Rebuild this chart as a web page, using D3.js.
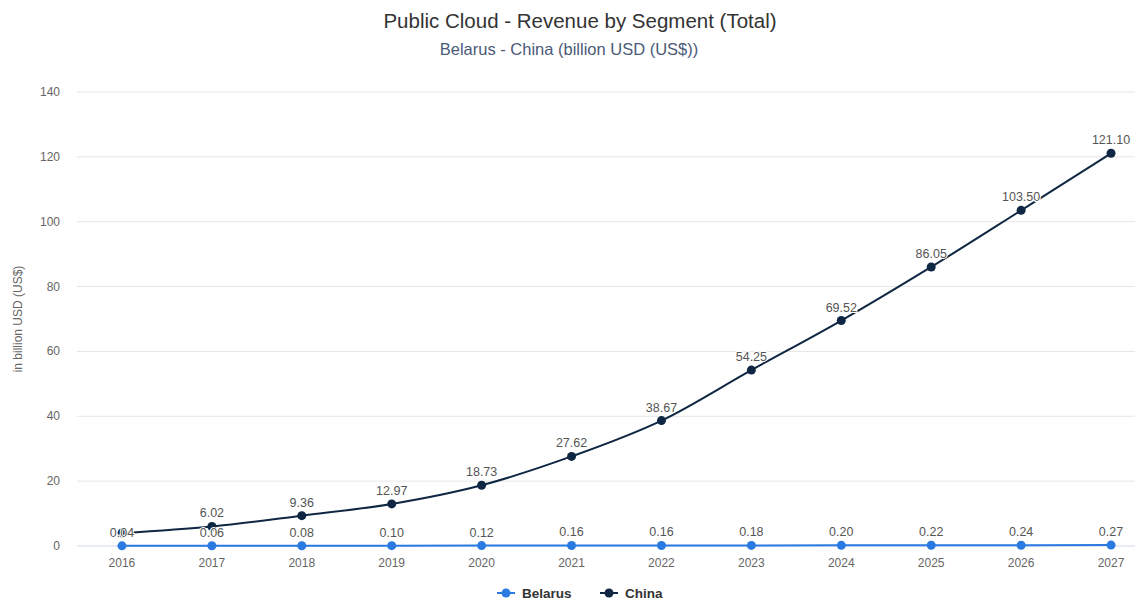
<!DOCTYPE html>
<html>
<head>
<meta charset="utf-8">
<script src="https://cdn.jsdelivr.net/npm/d3@7"></script>
<style>
	body { margin: 0; background: #fff; font-family: "Liberation Sans", Arial, sans-serif; }
	svg { display: block; }
</style>
</head>
<body>
<div id="chart"></div>
<script>
(function() {

const years = ["2016", "2017", "2018", "2019", "2020", "2021", "2022", "2023", "2024", "2025", "2026", "2027"];
const belarus = [0.04, 0.06, 0.08, 0.10, 0.12, 0.16, 0.16, 0.18, 0.20, 0.22, 0.24, 0.27];
const china = [4.0, 6.02, 9.36, 12.97, 18.73, 27.62, 38.67, 54.25, 69.52, 86.05, 103.50, 121.10];
const yTicks = [0, 20, 40, 60, 80, 100, 120, 140];
// china 2016 label is hidden in the original (overlaps)
const chinaHideLabel = [true, false, false, false, false, false, false, false, false, false, false, false];

const width = 1135, height = 601;
const left = 77, right = 1135, top = 92, bottom = 546;

const svg = d3.select("#chart").append("svg")
	.attr("width", width)
	.attr("height", height);

const x = d3.scalePoint()
	.domain(years)
	.range([left, right + 21])
	.padding(0.5);

const y = d3.scaleLinear()
	.domain([0, 140])
	.range([bottom, top]);

// title
svg.append("text")
	.attr("x", 580).attr("y", 28)
	.attr("text-anchor", "middle")
	.attr("font-size", 20.5)
	.attr("fill", "#333")
	.text("Public Cloud - Revenue by Segment (Total)");

svg.append("text")
	.attr("x", 569).attr("y", 55)
	.attr("text-anchor", "middle")
	.attr("font-size", 16.5)
	.attr("fill", "#4b5a78")
	.text("Belarus - China (billion USD (US$))");

// grid
svg.append("g").selectAll("line")
	.data(yTicks)
	.enter().append("line")
	.attr("x1", left).attr("x2", right)
	.attr("y1", d => y(d)).attr("y2", d => y(d))
	.attr("stroke", d => d === 0 ? "#ccd6eb" : "#e6e6e6")
	.attr("stroke-width", 1);

// y labels
svg.append("g").selectAll("text")
	.data(yTicks)
	.enter().append("text")
	.attr("x", 60)
	.attr("y", d => y(d) + 4)
	.attr("text-anchor", "end")
	.attr("font-size", 12)
	.attr("fill", "#666")
	.text(d => d);

svg.append("text")
	.attr("transform", "translate(22," + ((top + bottom) / 2) + ") rotate(-90)")
	.attr("text-anchor", "middle")
	.attr("font-size", 12)
	.attr("fill", "#666")
	.text("in billion USD (US$)");

// x labels
svg.append("g").selectAll("text")
	.data(years)
	.enter().append("text")
	.attr("x", d => x(d))
	.attr("y", 567)
	.attr("text-anchor", "middle")
	.attr("font-size", 12)
	.attr("fill", "#666")
	.text(d => d);

function drawSeries(values, color) {
	const pts = values.map((v, i) => [x(years[i]), y(v)]);
	const line = d3.line().curve(d3.curveMonotoneX);
	const g = svg.append("g");
	g.append("path")
		.attr("d", line(pts))
		.attr("fill", "none")
		.attr("stroke", color)
		.attr("stroke-width", 2);
	g.selectAll("circle")
		.data(pts)
		.enter().append("circle")
		.attr("cx", d => d[0]).attr("cy", d => d[1])
		.attr("r", 4.5)
		.attr("fill", color);
	return pts;
}

const cPts = drawSeries(china, "#0f2742");
const bPts = drawSeries(belarus, "#2a7ae2");

function labels(values, pts, hide) {
	const g = svg.append("g");
	values.forEach((v, i) => {
		if (hide && hide[i]) return;
		g.append("text")
			.attr("x", pts[i][0])
			.attr("y", pts[i][1] - 9)
			.attr("text-anchor", "middle")
			.attr("font-size", 12.5)
			.attr("fill", "#555")
			.attr("stroke", "#fff")
			.attr("stroke-width", 2)
			.attr("stroke-linejoin", "round")
			.attr("paint-order", "stroke")
			.text(v.toFixed(2));
	});
}

labels(china, cPts, chinaHideLabel);
labels(belarus, bPts);

// legend
const legend = [["Belarus", "#2a7ae2"], ["China", "#0f2742"]];
const lg = svg.append("g").attr("transform", "translate(497,593)");
legend.forEach((d, i) => {
	const gx = i * 103;
	lg.append("line")
		.attr("x1", gx).attr("x2", gx + 18)
		.attr("y1", 0).attr("y2", 0)
		.attr("stroke", d[1]).attr("stroke-width", 2);
	lg.append("circle")
		.attr("cx", gx + 9).attr("cy", 0).attr("r", 4.5)
		.attr("fill", d[1]);
	lg.append("text")
		.attr("x", gx + 25).attr("y", 4.5)
		.attr("font-size", 13.5)
		.attr("font-weight", "bold")
		.attr("fill", "#333")
		.text(d[0]);
});

})();
</script>
</body>
</html>
